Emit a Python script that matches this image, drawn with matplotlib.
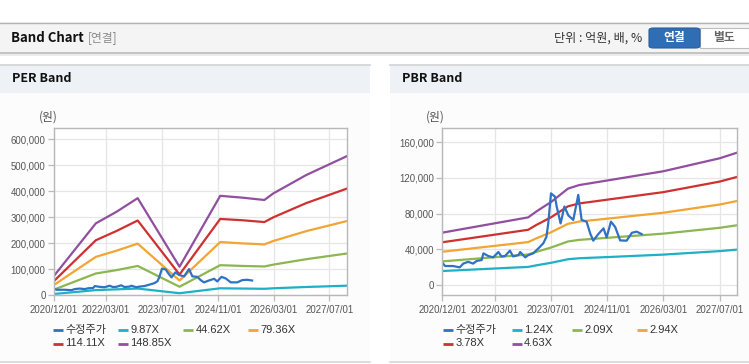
import matplotlib
matplotlib.use("Agg")
import matplotlib.pyplot as plt
import matplotlib.dates as mdates
from matplotlib.patches import Rectangle, FancyBboxPatch
from matplotlib.lines import Line2D
import pandas as pd

plt.rcParams['font.family'] = ['Liberation Sans', 'Noto Sans CJK KR', 'DejaVu Sans']

W, H = 749, 364

# ---------------- data ----------------
price_dates = ['2020-12-01', '2020-12-25', '2021-03-04', '2021-05-01', '2021-06-01', '2021-07-13',
               '2021-08-25', '2021-09-25', '2021-11-07', '2021-11-22', '2022-01-04', '2022-02-15',
               '2022-04-01', '2022-04-28', '2022-05-28', '2022-07-10', '2022-08-07', '2022-09-22',
               '2022-10-07', '2022-11-19', '2022-12-16', '2023-01-28', '2023-03-13', '2023-04-25',
               '2023-05-22', '2023-06-07', '2023-07-01', '2023-08-04', '2023-08-19', '2023-09-22',
               '2023-10-25', '2023-11-28', '2024-01-10', '2024-02-22', '2024-03-22', '2024-05-04',
               '2024-06-04', '2024-07-01', '2024-08-13', '2024-09-28', '2024-10-25', '2024-12-01',
               '2025-01-07', '2025-02-19', '2025-04-16', '2025-06-01', '2025-07-13', '2025-08-25']
price = [25000, 21300, 21300, 19800, 24000, 26000, 24000, 27000, 28000, 35500, 32500, 31000,
         37000, 32000, 32500, 38500, 32000, 33600, 37000, 31000, 33500, 35500, 41000, 46700,
         54000, 69000, 102700, 99000, 88000, 69000, 88000, 78000, 73000, 101000, 73000, 71000,
         58000, 49700, 57000, 63500, 53400, 71000, 65000, 50000, 49700, 58600, 59800, 57000]

per_dates = ['2020-12-01', '2021-12-01', '2022-06-01', '2022-12-01', '2023-12-01', '2024-11-20',
             '2025-06-01', '2025-12-10', '2026-02-25', '2026-12-10', '2027-12-01']
per_labels = ['9.87X', '44.62X', '79.36X', '114.11X', '148.85X']
per_9_87 = [5000, 20000, 23000, 26000, 8000, 27000, 26000, 25000, 27000, 32000, 37000]
per_44_62 = [22000, 84000, 97000, 113000, 33000, 116000, 113000, 111000, 118000, 139000, 161000]
per_79_36 = [40000, 148000, 172000, 199000, 57000, 205000, 200000, 196000, 209000, 247000, 286000]
per_114_11 = [55000, 212000, 248000, 288000, 80000, 294000, 289000, 282000, 300000, 355000, 411000]
per_148_85 = [75000, 277000, 322000, 374000, 110000, 383000, 376000, 367000, 392000, 463000, 536000]

pbr_dates = ['2020-12-01', '2022-12-15', '2023-02-25', '2023-07-01', '2023-11-25', '2024-03-01',
             '2024-12-01', '2026-03-01', '2027-07-01', '2027-12-01']
pbr_labels = ['1.24X', '2.09X', '2.94X', '3.78X', '4.63X']
pbr_1_24 = [15700, 20300, 22100, 24900, 28900, 30000, 31500, 34100, 38000, 39700]
pbr_2_09 = [26500, 34200, 37200, 42000, 48800, 50600, 53200, 57600, 64100, 67000]
pbr_2_94 = [37300, 48100, 52400, 59100, 68600, 71100, 74800, 81000, 90200, 94200]
pbr_3_78 = [47900, 61900, 67400, 75900, 88200, 91400, 96200, 104100, 115900, 121200]
pbr_4_63 = [58700, 75800, 82500, 93000, 108000, 112000, 117800, 127500, 142000, 148400]

x_ticks = ['2020/12/01', '2022/03/01', '2023/07/01', '2024/11/01', '2026/03/01', '2027/07/01']
per_yticks = [0, 100000, 200000, 300000, 400000, 500000, 600000]
pbr_yticks = [0, 40000, 80000, 120000, 160000]
price_label = '수정주가'

colors = ['#2f72c4', '#1eb0c6', '#8cb650', '#f2a533', '#cf3030', '#914f9f']

# ---------------- figure ----------------
fig = plt.figure(figsize=(W / 100, H / 100), dpi=100)
fig.patch.set_facecolor('white')


def fx(x):
    return x / W


def fy(y):
    return 1 - y / H


def rect(x0, y0, x1, y1, fc, ec='none', lw=0, z=0):
    fig.add_artist(Rectangle((fx(x0), fy(y1)), fx(x1) - fx(x0), fy(y0) - fy(y1),
                             transform=fig.transFigure, facecolor=fc, edgecolor=ec,
                             linewidth=lw, zorder=z))


def hline(x0, x1, y, c, lw=1.0, z=1):
    fig.add_artist(Line2D([fx(x0), fx(x1)], [fy(y), fy(y)], transform=fig.transFigure,
                          color=c, linewidth=lw, zorder=z))


# header band
rect(0, 22, W, 52, '#f4f4f4')
hline(0, W, 22.5, '#b4b4b4', 1.0)
rect(0, 52, W, 53.5, '#c4c4c4')
rect(0, 53.5, W, 56, '#ececec')
fig.text(fx(11), fy(38), 'Band Chart', fontsize=9.5, fontweight='bold', color='#111111',
         va='center', ha='left', family=['Noto Sans CJK KR', 'DejaVu Sans'])
fig.text(fx(88), fy(38), '[연결]', fontsize=8.5, color='#8a8a8a', va='center', ha='left',
         family=['Noto Sans CJK KR', 'DejaVu Sans'])
fig.text(fx(642), fy(38), '단위 : 억원, 배, %', fontsize=8.7, color='#333333', va='center',
         ha='right', family=['Noto Sans CJK KR', 'DejaVu Sans'])
# buttons
fig.add_artist(FancyBboxPatch((fx(649), fy(48)), fx(700) - fx(649), fy(28) - fy(48),
                              boxstyle='round,pad=0,rounding_size=0.006',
                              transform=fig.transFigure, facecolor='#2f6db4',
                              edgecolor='#2a5f9c', linewidth=0.8, zorder=3))
fig.add_artist(Rectangle((fx(700), fy(48)), fx(749) - fx(700), fy(28) - fy(48),
                         transform=fig.transFigure, facecolor='white', edgecolor='#bdbdbd',
                         linewidth=0.8, zorder=2))
fig.text(fx(674.5), fy(38), '연결', fontsize=8.5, fontweight='bold', color='white', va='center',
         ha='center', family=['Noto Sans CJK KR', 'DejaVu Sans'], zorder=4)
fig.text(fx(724), fy(38), '별도', fontsize=8.5, fontweight='bold', color='#666666', va='center',
         ha='center', family=['Noto Sans CJK KR', 'DejaVu Sans'], zorder=4)

# panels
for (px0, px1, title) in [(0, 370, 'PER Band'), (390, W, 'PBR Band')]:
    rect(px0, 64.5, px1, 92.5, '#eef2f7')
    rect(px0, 92.5, px1, 362, '#fcfcfc')
    hline(px0, px1, 64.5, '#d2d2d2', 1.2)
    hline(px0, px1, 362.3, '#d6d6d6', 1.2)
    fig.text(fx(px0 + 12), fy(79), title, fontsize=9, fontweight='bold', color='#111111',
             va='center', ha='left', family=['Noto Sans CJK KR', 'DejaVu Sans'])

xmin, xmax = pd.Timestamp('2020-12-01'), pd.Timestamp('2027-12-01')
tick_dates = [pd.Timestamp(t.replace('/', '-')) for t in x_ticks]


def setup_axes(ax, yticks, ylim):
    ax.set_facecolor('white')
    ax.set_xlim(xmin, xmax)
    ax.set_ylim(*ylim)
    ax.set_xticks(tick_dates)
    ax.set_xticklabels(x_ticks)
    ax.set_yticks(yticks)
    ax.set_yticklabels([f'{v:,}' for v in yticks])
    ax.grid(True, color='#e6e6e6', linewidth=0.9)
    ax.set_axisbelow(True)
    for s in ax.spines.values():
        s.set_color('#b8b8b8')
        s.set_linewidth(1.0)
    ax.tick_params(axis='both', colors='#bbbbbb', labelcolor='#555555', labelsize=6.9,
                   length=4, width=0.9)
    ax.tick_params(axis='x', pad=3)
    ax.tick_params(axis='y', pad=2)


def legend(x_positions, y_rows, labels):
    for (x, y), lab, c in zip([(x_positions[i % 4], y_rows[i // 4]) for i in range(len(labels))],
                              labels, colors):
        fig.add_artist(Line2D([fx(x), fx(x + 10)], [fy(y), fy(y)], transform=fig.transFigure,
                              color=c, linewidth=2.0, solid_capstyle='butt'))
        fig.text(fx(x + 12.5), fy(y), lab, fontsize=8, color='#333333', va='center',
                 ha='left', family=['Liberation Sans', 'Noto Sans CJK KR'])


# PER axes
ax1 = fig.add_axes([fx(54), fy(295.3), fx(347) - fx(54), fy(128.3) - fy(295.3)])
setup_axes(ax1, per_yticks, (0, 643000))
pd_per = pd.to_datetime(per_dates)
for vals, c in zip([per_9_87, per_44_62, per_79_36, per_114_11, per_148_85], colors[1:]):
    ax1.plot(pd_per, vals, color=c, linewidth=1.6)
ax1.plot(pd.to_datetime(price_dates), price, color=colors[0], linewidth=1.6)
fig.text(fx(39), fy(117), '(원)', fontsize=8.5, color='#555555', va='center', ha='left',
         family=['Noto Sans CJK KR', 'DejaVu Sans'])
legend([53, 118, 183, 248], [330, 343.5], [price_label] + per_labels)

# PBR axes
ax2 = fig.add_axes([fx(442.3), fy(295.3), fx(737.3) - fx(442.3), fy(128.3) - fy(295.3)])
setup_axes(ax2, pbr_yticks, (-11500, 175600))
pd_pbr = pd.to_datetime(pbr_dates)
for vals, c in zip([pbr_1_24, pbr_2_09, pbr_2_94, pbr_3_78, pbr_4_63], colors[1:]):
    ax2.plot(pd_pbr, vals, color=c, linewidth=1.6)
ax2.plot(pd.to_datetime(price_dates), price, color=colors[0], linewidth=1.6)
fig.text(fx(426), fy(117), '(원)', fontsize=8.5, color='#555555', va='center', ha='left',
         family=['Noto Sans CJK KR', 'DejaVu Sans'])
legend([442.7, 511.7, 572, 637], [330, 343.5], [price_label] + pbr_labels)

fig.savefig('out.png', dpi=100)
